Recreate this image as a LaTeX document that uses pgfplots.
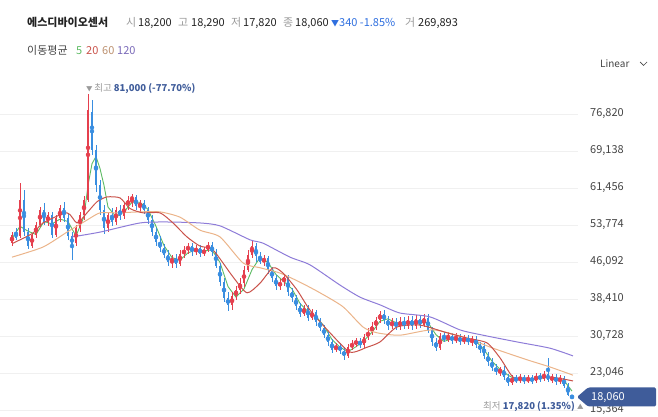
\documentclass[border=0pt]{standalone}
\usepackage{pgfplots}
\usepackage{pgfplotstable}
\pgfplotsset{compat=1.18}
\usepackage{fontspec}
\setmainfont{Noto Sans CJK KR}

\definecolor{upc}{HTML}{E5404E}
\definecolor{dnc}{HTML}{3A8EE0}
\definecolor{ma5}{HTML}{5DBB63}
\definecolor{ma20}{HTML}{C9524A}
\definecolor{ma60}{HTML}{EBB48A}
\definecolor{ma120}{HTML}{8E7CD8}
\definecolor{navy}{HTML}{3F5C9A}
\definecolor{txtg}{HTML}{9A9A9A}
\definecolor{txtd}{HTML}{222222}
\definecolor{tickc}{HTML}{444444}
\definecolor{grd}{HTML}{F0F0F0}
\definecolor{dnblue}{HTML}{2F6FDF}

\newcommand\fs{\fontsize{11}{13}\selectfont}

% up (red) candles: x o h l c
\pgfplotstableread{
x o h l c
12 50000 52300 49400 51700
20 51500 62500 51100 59000
32 49400 52100 49000 51700
36 51700 54400 51100 53800
40 53800 57500 53400 56900
48 54400 56500 53600 55900
56 51700 55900 51300 55200
60 55200 57900 54400 57300
76 50000 53800 49400 53200
80 53200 56500 52300 55900
84 55900 59800 54800 59000
88 59000 81000 58600 77700
108 53200 56500 52300 55900
116 54400 57500 53800 56900
124 55600 58600 55000 57900
128 57900 59800 56900 59000
132 59000 60200 57500 59600
140 57700 59000 56500 58300
172 46100 47500 44900 46900
180 45700 48600 45300 47800
184 47800 49400 46900 48600
188 48600 50000 47800 49400
196 48200 49600 47500 49000
204 47800 49200 47300 48600
208 48600 50200 48200 49600
232 37200 39900 36100 39000
236 39000 41100 38200 40300
240 40300 42800 39500 41700
244 41700 45300 40900 44400
248 44400 48600 44000 47500
252 47500 50700 46900 49400
264 46100 47500 45300 46900
280 41100 42600 40300 41900
284 41900 43600 41100 43000
304 35300 37200 34900 36500
312 34500 36300 34100 35700
336 27800 29300 27400 28700
348 26600 29100 26200 28400
352 28400 29900 27800 29100
356 29100 30300 28400 29700
364 28900 31100 28200 30500
368 30500 32400 29900 31600
372 31600 33600 30900 32800
376 32800 34700 32000 34100
380 34100 35900 33400 35300
392 32800 34500 32200 33600
400 32600 34700 32000 33800
408 32800 34900 32200 34100
416 32800 35100 32200 34300
424 33000 35300 32600 34500
440 28200 31400 27800 30700
448 29900 31600 29500 30700
456 29700 31400 29300 30500
464 29500 30900 29100 30300
472 29500 30700 28700 30100
500 23300 24300 22400 23700
512 21000 22600 20600 22000
520 21400 22800 21000 22200
528 21400 22600 21000 22000
536 21400 23100 21000 22400
544 21800 23500 21400 22800
552 21600 22800 21000 22200
560 21200 22600 20800 22000
}\upcandles

% down (blue) candles
\pgfplotstableread{
x o h l c
16 52300 53200 50700 51100
24 59000 61000 51500 52300
28 52300 53200 48800 49400
44 56900 58300 53800 54400
52 55900 56500 51100 51700
64 57300 58600 54400 55200
68 55200 56100 50700 51500
72 51500 52300 46500 49600
92 77200 79700 68300 69300
96 69300 70400 60600 62100
100 62100 63100 55900 56900
104 56900 57900 51900 53200
112 55900 57300 53600 54400
120 56900 57900 54800 55600
136 59600 60000 56900 57700
144 58300 59000 56100 56900
148 56900 57500 54000 54800
152 54800 55900 51500 52300
156 52300 53200 49400 50200
160 50200 51500 48200 49000
164 49000 49800 46900 47500
168 47500 48600 45300 46100
176 46900 47800 44900 45700
192 49400 50000 47300 48200
200 49000 49600 47100 47800
212 49600 50200 47300 48200
216 48200 48800 44900 45300
220 45300 45900 41100 41900
224 41900 42800 37800 38600
228 38600 39900 35900 37200
256 49400 50000 46100 47300
260 47300 48200 45700 46100
268 46900 47300 43600 44400
272 44400 45100 41900 42800
276 42800 43400 40300 41100
288 43000 43400 39000 39900
292 39900 40700 37800 38600
296 38600 39200 36100 37000
300 37000 37600 34700 35300
308 36500 37200 33800 34500
316 35700 36100 32800 33600
320 33600 34500 31800 32400
324 32400 33000 30300 30900
328 30900 31600 28700 29500
332 29500 30100 27200 27800
340 28700 29300 27000 27600
344 27600 28400 25800 26600
360 29700 30300 28200 28900
384 35300 36100 33200 34100
388 34100 34900 32000 32800
396 33600 34500 32000 32600
404 33800 34700 32200 32800
412 34100 34900 32000 32800
420 34300 34900 32400 33000
428 34500 35300 31400 32000
432 32000 32600 28700 29500
436 29500 30300 27600 28200
444 30700 31600 29500 29900
452 30700 31400 29100 29700
460 30500 31100 28900 29500
468 30300 30900 28900 29500
476 30100 30700 28200 28900
480 28900 29500 27200 27800
484 28700 29300 26000 26600
488 26600 27400 24500 25300
492 25300 26200 23500 24100
496 24100 24900 22600 23300
504 23700 24500 21600 22200
508 22200 22800 20400 21000
516 22000 22600 21000 21400
524 22200 22600 20800 21400
532 22000 22600 20800 21400
540 22400 23100 21200 21800
548 22800 26200 21200 21600
556 22200 22800 20600 21200
564 22000 22400 19900 20400
568 20400 21000 18300 18400
572 18200 18290 17820 18060
}\dncandles

\begin{document}
\begin{tikzpicture}[x=1pt,y=1pt]
\path[use as bounding box] (0,0) rectangle (658,417);
\begin{axis}[
  at={(0,0)}, anchor=south west,
  scale only axis, width=578pt, height=342pt,
  xmin=0, xmax=578, ymin=13917, ymax=84916,
  axis line style={draw=none},
  xtick=\empty,
  scaled y ticks=false,
  ytick={15364,23046,30728,38410,46092,53774,61456,69138,76820},
  yticklabels={{15,364},{23,046},{30,728},{38,410},{46,092},{53,774},{61,456},{69,138},{76,820}},
  yticklabel pos=right,
  yticklabel style={anchor=west, xshift=12pt, inner sep=0pt, font=\fs, text=tickc},
  major tick length=0pt,
  ymajorgrids, grid style={grd, line width=0.8pt},
]
% MA 5
\addplot[ma5, line width=0.9pt, mark=none] coordinates {
(12,51000)(20,53500)(28,52500)(36,51800)(44,54500)(52,54000)(60,55000)(68,54500)(76,51500)(84,55500)(88,62000)(92,66500)(96,68000)(100,65500)(104,62000)(108,57500)(116,55500)(124,56500)(132,58500)(140,58500)(148,57000)(156,53500)(164,49500)(172,47000)(180,46500)(188,48000)(196,48600)(204,48400)(212,48600)(220,46000)(228,41000)(236,38800)(244,40500)(252,44500)(260,47000)(268,46000)(276,43500)(284,42000)(292,40500)(300,37500)(308,35800)(316,34800)(324,32800)(332,30000)(340,28400)(348,27500)(356,28500)(364,29800)(372,31500)(380,33800)(388,34300)(396,33500)(404,33400)(412,33500)(420,33500)(428,33500)(436,31000)(444,29600)(452,30200)(460,30000)(468,29900)(476,29600)(484,27900)(492,25500)(500,23800)(508,22600)(516,21700)(524,21700)(532,21700)(540,21900)(548,22300)(556,21800)(564,21500)(572,19300)
};
% wicks
\addplot[upc, only marks, mark=none, error bars/.cd, y dir=both, y explicit, error mark=none,
  error bar style={line width=0.7pt, draw=upc}]
  table[x=x, y expr={(\thisrow{h}+\thisrow{l})/2}, y error expr={(\thisrow{h}-\thisrow{l})/2}] {\upcandles};
\addplot[dnc, only marks, mark=none, error bars/.cd, y dir=both, y explicit, error mark=none,
  error bar style={line width=0.7pt, draw=dnc}]
  table[x=x, y expr={(\thisrow{h}+\thisrow{l})/2}, y error expr={(\thisrow{h}-\thisrow{l})/2}] {\dncandles};
% bodies
\addplot[upc, only marks, mark=none, error bars/.cd, y dir=both, y explicit, error mark=none,
  error bar style={line width=2.2pt, draw=upc}]
  table[x=x, y expr={(\thisrow{o}+\thisrow{c})/2}, y error expr={(\thisrow{c}-\thisrow{o})/2}] {\upcandles};
\addplot[dnc, only marks, mark=none, error bars/.cd, y dir=both, y explicit, error mark=none,
  error bar style={line width=2.2pt, draw=dnc}]
  table[x=x, y expr={(\thisrow{o}+\thisrow{c})/2}, y error expr={(\thisrow{o}-\thisrow{c})/2}] {\dncandles};
% MA 120
\addplot[ma120, line width=1pt, mark=none, smooth, tension=0.4] coordinates {
(72,51300)(100,52300)(140,54200)(167,54400)(200,54200)(220,53600)(250,50700)(263,50000)(290,47100)(310,45500)(340,41300)(360,38800)(380,37200)(400,35500)(430,34700)(460,32000)(483,30900)(517,29500)(550,28200)(573,26600)
};
% MA 60
\addplot[ma60, line width=1pt, mark=none, smooth, tension=0.4] coordinates {
(12,47100)(43,49200)(67,52300)(87,54800)(100,56300)(117,56300)(140,56500)(160,56500)(180,55400)(200,52700)(220,51300)(243,45900)(260,44900)(280,43800)(300,41900)(320,39700)(343,36800)(363,32600)(377,31400)(400,30900)(433,32000)(467,30300)(493,28200)(527,25800)(550,24300)(573,22600)
};
% MA 20
\addplot[ma20, line width=1pt, mark=none, smooth, tension=0.4] coordinates {
(13,50000)(33,52100)(43,54200)(67,56300)(77,54200)(87,56300)(97,58600)(107,59600)(120,59400)(130,57200)(143,56300)(160,56300)(173,54200)(187,51300)(200,49400)(213,48600)(233,43000)(247,39700)(260,41700)(273,44900)(283,43800)(297,40300)(310,36100)(330,31400)(350,27400)(367,28400)(380,29500)(397,32600)(420,33000)(447,31400)(467,30300)(487,29300)(500,26200)(513,22200)(527,21600)(550,22200)(573,21400)
};
\end{axis}

% header row 1
\node[anchor=base west, inner sep=0pt, font=\fs\bfseries, text=txtd] at (27,390) {에스디바이오센서};
\node[anchor=base west, inner sep=0pt, font=\fs, text=txtg] at (126,390) {시};
\node[anchor=base west, inner sep=0pt, font=\fs, text=txtd] at (138,390) {18,200};
\node[anchor=base west, inner sep=0pt, font=\fs, text=txtg] at (178,390) {고};
\node[anchor=base west, inner sep=0pt, font=\fs, text=txtd] at (191,390) {18,290};
\node[anchor=base west, inner sep=0pt, font=\fs, text=txtg] at (231,390) {저};
\node[anchor=base west, inner sep=0pt, font=\fs, text=txtd] at (243,390) {17,820};
\node[anchor=base west, inner sep=0pt, font=\fs, text=txtg] at (283,390) {종};
\node[anchor=base west, inner sep=0pt, font=\fs, text=txtd] at (295,390) {18,060};
\node[anchor=base west, inner sep=0pt, font=\fs, text=dnblue] at (331,390) {{\fontsize{8}{10}\selectfont ▼}340 -1.85\%};
\node[anchor=base west, inner sep=0pt, font=\fs, text=txtg] at (405,390) {거};
\node[anchor=base west, inner sep=0pt, font=\fs, text=txtd] at (418,390) {269,893};
% header row 2
\node[anchor=base west, inner sep=0pt, font=\fs, text=tickc] at (27,362) {이동평균};
\node[anchor=base west, inner sep=0pt, font=\fs, text=ma5] at (76,362) {5};
\node[anchor=base west, inner sep=0pt, font=\fs, text=ma20] at (86,362) {20};
\node[anchor=base west, inner sep=0pt, font=\fs, text=ma60!80!black] at (102,362) {60};
\node[anchor=base west, inner sep=0pt, font=\fs, text=ma120!85!black] at (117,362) {120};
% scale selector
\node[anchor=base west, inner sep=0pt, font=\fontsize{10}{12}\selectfont, text=tickc] at (600,349) {Linear};
\draw[tickc, line width=0.7pt] (640,355) -- (643.5,351.5) -- (647,355);
% high / low marks
\node[anchor=base west, inner sep=0pt, font=\fontsize{9.5}{11}\selectfont] at (86,325.5)
  {\textcolor{txtg}{{\fontsize{6.5}{8}\selectfont ▼}\,최고} \textcolor{navy}{\bfseries 81,000 (-77.70\%)}};
\node[anchor=base west, inner sep=0pt, font=\fontsize{9.5}{11}\selectfont] at (483,7.5)
  {\textcolor{txtg}{최저} \textcolor{navy}{\bfseries 17,820 (1.35\%)} \textcolor{txtg}{\fontsize{6.5}{8}\selectfont ▲}};
% last price tag
\fill[navy, rounded corners=1.5pt] (577,20) -- (588,29.5) -- (656,29.5) -- (656,10.5) -- (588,10.5) -- cycle;
\node[anchor=base west, inner sep=0pt, font=\fs, text=white] at (591,16) {18,060};
\end{tikzpicture}
\end{document}
